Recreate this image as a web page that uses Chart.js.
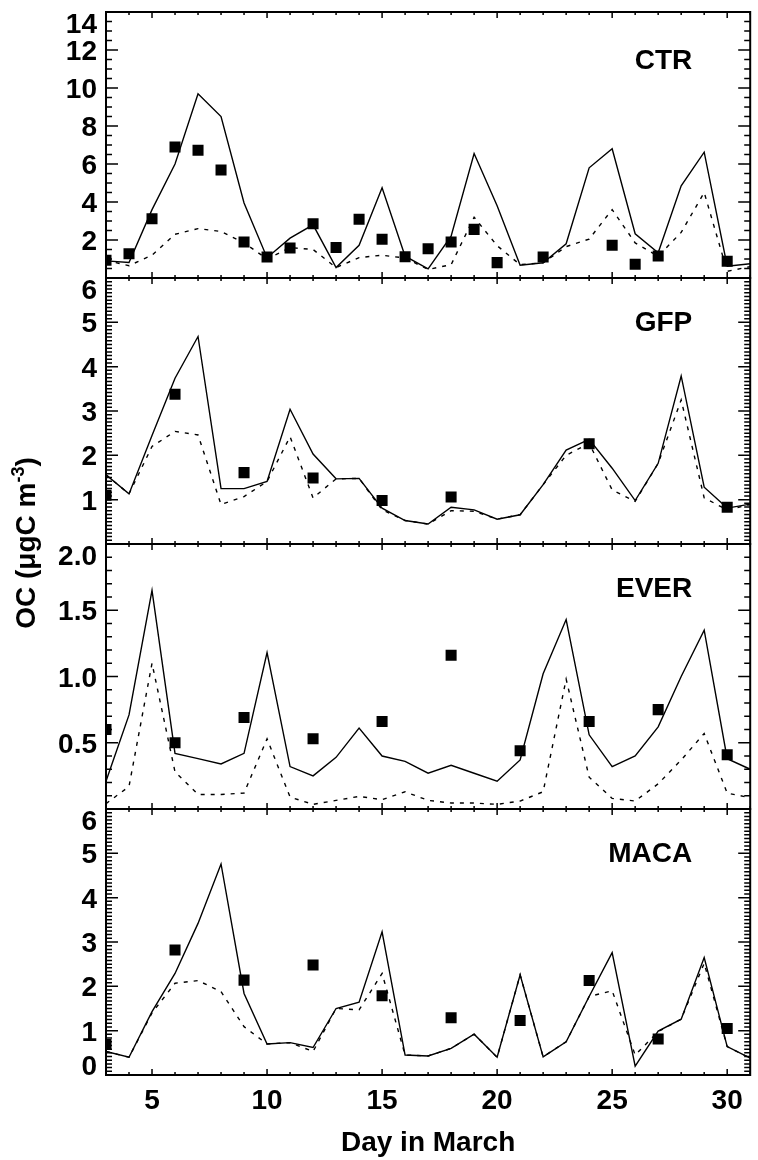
<!DOCTYPE html>
<html>
<head>
<meta charset="utf-8">
<script src="https://cdn.jsdelivr.net/npm/chart.js@4.4.0/dist/chart.umd.min.js"></script>
<style>
  html, body { margin: 0; padding: 0; background: #fff; }
  #wrap { position: relative; width: 758px; height: 1160px; overflow: hidden; }
  #wrap canvas { position: absolute; left: 0; }
  #ytitle {
    position: absolute; left: -123px; top: 526px; width: 300px; height: 34px;
    line-height: 34px; text-align: center; white-space: nowrap;
    font: bold 28px "Liberation Sans", Arial, sans-serif; color: #000;
    transform: rotate(-90deg);
  }
  #ytitle sup { font-size: 18px; line-height: 0; vertical-align: 11px; }
</style>
</head>
<body>
<div id="wrap">
  <canvas id="c-ctr"></canvas>
  <canvas id="c-gfp"></canvas>
  <canvas id="c-ever"></canvas>
  <canvas id="c-maca"></canvas>
  <div id="ytitle">OC (μgC m<sup>-3</sup>)</div>
</div>
<script>
// Days of March (model output every day)
const days = [3, 4, 5, 6, 7, 8, 9, 10, 11, 12, 13, 14, 15, 16, 17, 18, 19, 20, 21, 22, 23, 24, 25, 26, 27, 28, 29, 30, 31];
const xTicks = [5, 10, 15, 20, 25, 30];

// CTR
const ctrSolid  = [0.9, 0.82, 3.6, 6.0, 9.7, 8.5, 3.95, 1.07, 2.1, 2.8, 0.55, 1.72, 4.75, 1.15, 0.48, 2.2, 6.55, 3.8, 0.67, 0.8, 1.8, 5.8, 6.8, 2.33, 1.33, 4.85, 6.62, 0.62, 0.75];
const ctrDashed = [0.93, 0.65, 1.2, 2.3, 2.6, 2.45, 1.85, 1.0, 1.6, 1.5, 0.55, 1.07, 1.2, 1.05, 0.45, 0.7, 3.2, 1.7, 0.7, 0.8, 1.65, 2.05, 3.6, 1.85, 1.15, 2.4, 4.5, 0.35, 0.6];
const ctrObsDays = [3, 4, 5, 6, 7, 8, 9, 10, 11, 12, 13, 14, 15, 16, 17, 18, 19, 20, 22, 25, 26, 27, 30];
const ctrObs     = [0.93, 1.28, 3.12, 6.9, 6.72, 5.68, 1.89, 1.1, 1.58, 2.86, 1.6, 3.09, 2.04, 1.12, 1.54, 1.89, 2.56, 0.81, 1.1, 1.72, 0.72, 1.16, 0.88];
const ctrTicks   = [2, 4, 6, 8, 10, 12, 14];

// GFP
const gfpSolid  = [1.56, 1.13, 2.45, 3.74, 4.68, 1.25, 1.25, 1.41, 3.04, 2.03, 1.47, 1.48, 0.81, 0.53, 0.45, 0.83, 0.77, 0.56, 0.66, 1.34, 2.12, 2.36, 1.71, 0.98, 1.82, 3.79, 1.28, 0.81, 0.9];
const gfpDashed = [1.56, 1.13, 2.2, 2.54, 2.46, 0.89, 1.07, 1.41, 2.42, 1.04, 1.47, 1.48, 0.77, 0.53, 0.45, 0.75, 0.74, 0.56, 0.66, 1.34, 2.0, 2.27, 1.22, 0.96, 1.82, 3.25, 1.04, 0.77, 0.89];
const gfpObsDays = [3, 6, 9, 12, 15, 18, 24, 30];
const gfpObs     = [1.1, 3.38, 1.61, 1.49, 0.98, 1.06, 2.26, 0.83];
const gfpTicks   = [1, 2, 3, 4, 5, 6];

// EVER
const everSolid  = [0.21, 0.71, 1.65, 0.42, 0.38, 0.34, 0.42, 1.18, 0.32, 0.25, 0.39, 0.61, 0.4, 0.36, 0.27, 0.33, 0.27, 0.21, 0.37, 1.02, 1.43, 0.56, 0.32, 0.4, 0.62, 1.0, 1.35, 0.38, 0.3];
const everDashed = [0.04, 0.17, 1.1, 0.28, 0.11, 0.11, 0.12, 0.53, 0.09, 0.035, 0.065, 0.095, 0.07, 0.13, 0.065, 0.045, 0.045, 0.035, 0.06, 0.13, 0.98, 0.24, 0.08, 0.06, 0.19, 0.37, 0.57, 0.12, 0.085];
const everObsDays = [3, 6, 9, 12, 15, 18, 21, 24, 27, 30];
const everObs     = [0.6, 0.5, 0.69, 0.53, 0.66, 1.16, 0.44, 0.66, 0.75, 0.41];
const everTicks   = [0.5, 1.0, 1.5, 2.0];

// MACA
const macaSolid  = [0.53, 0.4, 1.43, 2.29, 3.42, 4.76, 1.84, 0.7, 0.73, 0.62, 1.5, 1.64, 3.23, 0.45, 0.43, 0.6, 0.92, 0.4, 2.26, 0.41, 0.75, 1.77, 2.76, 0.2, 0.99, 1.26, 2.65, 0.64, 0.38];
const macaDashed = [0.53, 0.4, 1.4, 2.07, 2.13, 1.88, 1.09, 0.7, 0.73, 0.53, 1.5, 1.47, 2.29, 0.45, 0.43, 0.6, 0.92, 0.4, 2.26, 0.41, 0.75, 1.77, 1.9, 0.45, 0.98, 1.26, 2.52, 0.64, 0.38];
const macaObsDays = [3, 6, 9, 12, 15, 18, 21, 24, 27, 30];
const macaObs     = [0.69, 2.82, 2.14, 2.48, 1.79, 1.29, 1.23, 2.13, 0.81, 1.05];
const macaTicks   = [0, 1, 2, 3, 4, 5, 6];

const FONT = '"Liberation Sans", Arial, sans-serif';

// Frame, inward ticks, y labels and panel name
const panelFrame = {
    id: 'panelFrame',
    afterDatasetsDraw(chart, args, opts) {
        const { ctx, chartArea: a, scales: { x, y } } = chart;
        ctx.save();
        ctx.strokeStyle = '#000';
        ctx.lineWidth = 1.5;
        ctx.beginPath();
        // x ticks, top and bottom
        for (let d = x.min; d <= x.max; d++) {
            const px = x.getPixelForValue(d);
            const len = d % 5 === 0 ? 6 : 3;
            ctx.moveTo(px, a.top); ctx.lineTo(px, a.top + len);
            ctx.moveTo(px, a.bottom); ctx.lineTo(px, a.bottom - len);
        }
        // y ticks, left and right
        const n = Math.round(y.max / opts.major) * opts.minorCount;
        for (let i = 0; i <= n; i++) {
            const v = i * opts.major / opts.minorCount;
            const py = y.getPixelForValue(v);
            const len = i % opts.minorCount === 0 ? 12 : 6;
            ctx.moveTo(a.left, py); ctx.lineTo(a.left + len, py);
            ctx.moveTo(a.right, py); ctx.lineTo(a.right - len, py);
        }
        ctx.stroke();
        ctx.lineWidth = 2;
        ctx.strokeRect(a.left, a.top, a.right - a.left, a.bottom - a.top);

        ctx.fillStyle = '#000';
        ctx.font = 'bold 28px ' + FONT;
        ctx.textAlign = 'right';
        ctx.textBaseline = 'alphabetic';
        opts.labels.forEach(v => {
            let base = y.getPixelForValue(v) + 10;
            base = Math.min(Math.max(base, a.top + 21), a.bottom);
            ctx.fillText(v.toFixed(opts.decimals), a.left - 9, base);
        });
        ctx.fillText(opts.name, a.right - 58, a.top + opts.nameOffset);
        ctx.restore();
    }
};

function points(xs, ys) {
    return xs.map((d, i) => ({ x: d, y: ys[i] }));
}

function makePanel(id, top, height, isBottom, cfg) {
    const canvas = document.getElementById(id);
    const canvasTop = top - 12;
    const canvasHeight = isBottom ? 1160 - canvasTop : height + 24;
    canvas.width = 758;
    canvas.height = canvasHeight;
    canvas.style.width = '758px';
    canvas.style.height = canvasHeight + 'px';
    canvas.style.top = canvasTop + 'px';

    const xScale = {
        type: 'linear', min: 3, max: 31,
        display: isBottom,
        grid: { display: false, drawTicks: false },
        border: { display: false },
        ticks: {
            stepSize: 5, includeBounds: false, autoSkip: false, maxRotation: 0,
            padding: 9, color: '#000',
            font: { family: FONT, size: 28, weight: 'bold' },
            callback: v => xTicks.includes(v) ? String(v) : ''
        },
        title: {
            display: true, text: 'Day in March', color: '#000', padding: 0,
            font: { family: FONT, size: 28, weight: 'bold' }
        }
    };
    // only the bottom panel keeps room for the day labels
    if (isBottom) {
        xScale.afterFit = s => { s.height = 85; };
    }

    return new Chart(canvas.getContext('2d'), {
        type: 'line',
        data: {
            datasets: [
                { data: points(days, cfg.solid), borderColor: '#000', borderWidth: 1.4, pointRadius: 0, tension: 0, fill: false, clip: 0 },
                { data: points(days, cfg.dashed), borderColor: '#000', borderWidth: 1.4, borderDash: [4, 6], pointRadius: 0, tension: 0, fill: false, clip: 0 },
                { data: points(cfg.obsDays, cfg.obs), showLine: false, pointStyle: 'rect', pointRadius: 7.8, backgroundColor: '#000', borderWidth: 0, clip: 0 }
            ]
        },
        options: {
            responsive: false,
            animation: false,
            devicePixelRatio: 1,
            layout: { padding: { left: 106, right: 2, top: 12, bottom: isBottom ? 0 : 12 } },
            scales: {
                x: xScale,
                y: { type: 'linear', display: false, min: 0, max: cfg.yMax }
            },
            plugins: {
                legend: { display: false },
                tooltip: { enabled: false },
                panelFrame: {
                    name: cfg.name, nameOffset: cfg.nameOffset, labels: cfg.labels, decimals: cfg.decimals,
                    major: cfg.major, minorCount: cfg.minorCount
                }
            }
        },
        plugins: [panelFrame]
    });
}

document.addEventListener('DOMContentLoaded', function() {
    makePanel('c-ctr', 12, 266, false, {
        name: 'CTR', nameOffset: 57, yMax: 14, major: 2, minorCount: 4, labels: ctrTicks, decimals: 0,
        solid: ctrSolid, dashed: ctrDashed, obsDays: ctrObsDays, obs: ctrObs
    });
    makePanel('c-gfp', 278, 266, false, {
        name: 'GFP', nameOffset: 53, yMax: 6, major: 1, minorCount: 12, labels: gfpTicks, decimals: 0,
        solid: gfpSolid, dashed: gfpDashed, obsDays: gfpObsDays, obs: gfpObs
    });
    makePanel('c-ever', 544, 265, false, {
        name: 'EVER', nameOffset: 53, yMax: 2, major: 0.5, minorCount: 5, labels: everTicks, decimals: 1,
        solid: everSolid, dashed: everDashed, obsDays: everObsDays, obs: everObs
    });
    makePanel('c-maca', 809, 266, true, {
        name: 'MACA', nameOffset: 53, yMax: 6, major: 1, minorCount: 12, labels: macaTicks, decimals: 0,
        solid: macaSolid, dashed: macaDashed, obsDays: macaObsDays, obs: macaObs
    });
});
</script>
</body>
</html>
